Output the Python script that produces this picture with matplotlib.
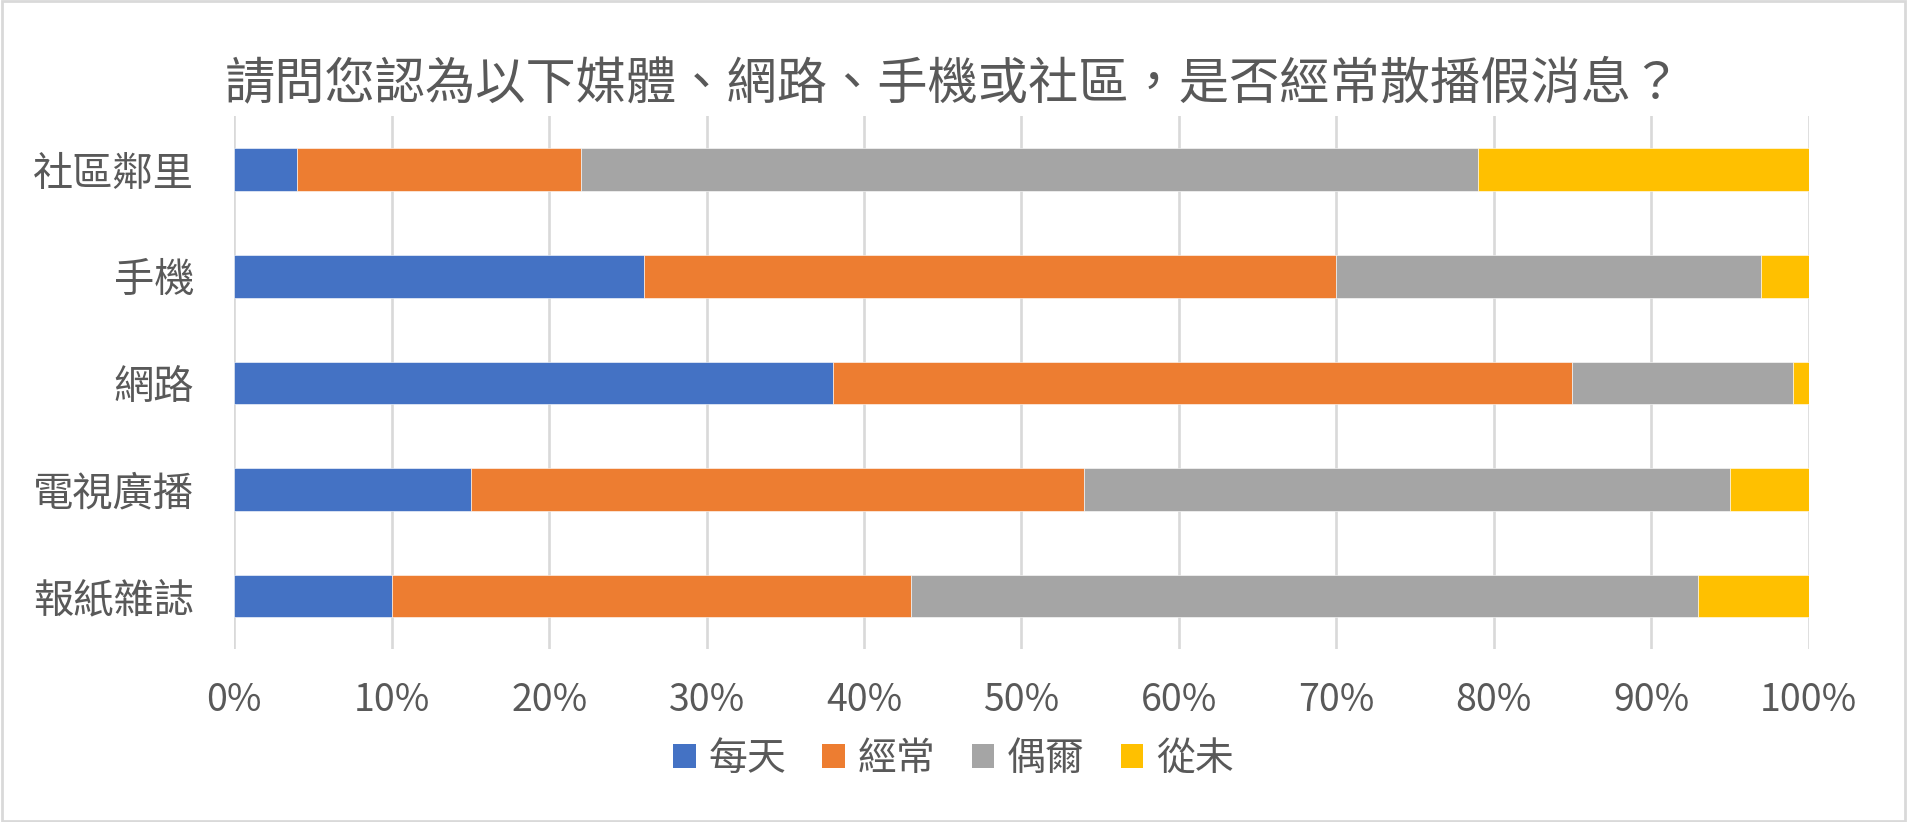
import matplotlib
matplotlib.use("Agg")
import matplotlib.pyplot as plt
from matplotlib.patches import Patch, Rectangle
from matplotlib.ticker import PercentFormatter

plt.rcParams['font.family'] = ['Noto Sans CJK TC', 'DejaVu Sans']

# categories listed bottom to top (as Excel draws them)
categories = ["報紙雜誌", "電視廣播", "網路", "手機", "社區鄰里"]
series_names = ["每天", "經常", "偶爾", "從未"]
daily = [10, 15, 38, 26, 4]
often = [33, 39, 47, 44, 18]
sometimes = [50, 41, 14, 27, 57]
never = [7, 5, 1, 3, 21]
colors = ["#4472C4", "#ED7D31", "#A5A5A5", "#FFC000"]
title = "請問您認為以下媒體、網路、手機或社區，是否經常散播假消息？"

text_color = "#595959"
grid_color = "#D9D9D9"

fig = plt.figure(figsize=(19.07, 8.22), dpi=100)
ax = fig.add_axes([0.1229, 0.2101, 0.8255, 0.6482])

left = [0] * len(categories)
for vals, name, c in zip([daily, often, sometimes, never], series_names, colors):
    ax.barh(categories, vals, left=left, height=0.4, color=c, label=name,
            edgecolor="white", linewidth=0.4, zorder=3)
    left = [l + v for l, v in zip(left, vals)]

ax.set_xlim(0, 100)
ax.set_ylim(-0.5, len(categories) - 0.5)
ax.set_xticks(range(0, 101, 10))
ax.xaxis.set_major_formatter(PercentFormatter(decimals=0))
ax.grid(axis="x", color=grid_color, linewidth=1.9, zorder=0)
ax.tick_params(axis="x", length=0, pad=22.5, labelsize=27, labelcolor=text_color)
ax.tick_params(axis="y", length=0, pad=29, labelsize=29, labelcolor=text_color)
for s in ax.spines.values():
    s.set_visible(False)

fig.text(0.5, 0.897, title, ha="center", va="center", fontsize=36.2,
         color=text_color, fontweight="light")

handles = [Patch(facecolor=c, label=n) for c, n in zip(colors, series_names)]
fig.legend(handles=handles, loc="center", bbox_to_anchor=(0.5, 0.077), ncol=4,
           frameon=False, fontsize=28, labelcolor=text_color,
           handlelength=0.58, handleheight=0.58, handletextpad=0.33,
           columnspacing=0.93, borderaxespad=0)

fig.patches.append(Rectangle((0.001, 0.001), 0.998, 0.998, transform=fig.transFigure,
                             fill=False, edgecolor=grid_color, linewidth=2))

fig.savefig("out.png", dpi=100, facecolor="white")
